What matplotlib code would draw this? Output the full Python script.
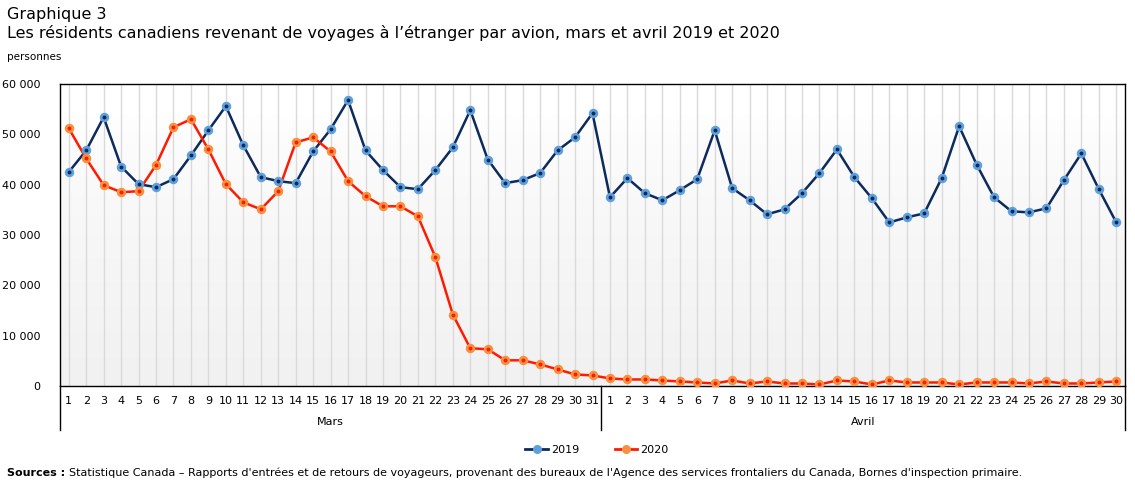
import matplotlib
matplotlib.use("Agg")
import matplotlib.pyplot as plt
import matplotlib.transforms as mtransforms
from matplotlib.lines import Line2D
import numpy as np

# daily travellers, 1 Mar .. 30 Apr
mars_days = [str(d) for d in range(1, 32)]
avril_days = [str(d) for d in range(1, 31)]
day_labels = mars_days + avril_days
month_labels = ["Mars", "Avril"]

y2019 = [42500, 46800, 53400, 43600, 40100, 39500, 41100, 45800, 50800, 55600,
         47800, 41500, 40700, 40300, 46600, 51000, 56800, 46800, 42900, 39500,
         39100, 42900, 47400, 54800, 45000, 40300, 40900, 42300, 46800, 49400,
         54200,
         37500, 41300, 38300, 36900, 38900, 41100, 50800, 39300, 36900, 34100,
         35100, 38300, 42300, 47000, 41500, 37300, 32500, 33500, 34300, 41300,
         51600, 44000, 37500, 34700, 34500, 35300, 40900, 46200, 39100, 32500]

y2020 = [51200, 45200, 39900, 38500, 38700, 43900, 51400, 53000, 47000, 40100,
         36500, 35100, 38700, 48400, 49400, 46600, 40700, 37700, 35700, 35700,
         33700, 25600, 14200, 7500, 7300, 5100, 5100, 4300, 3300, 2300,
         2100,
         1500, 1300, 1300, 1100, 900, 700, 500, 1100, 500, 900,
         500, 500, 300, 1100, 900, 300, 1100, 700, 700, 700,
         300, 700, 700, 700, 500, 900, 500, 500, 700, 900]

W, H = 1135, 492
fig = plt.figure(figsize=(W / 100, H / 100), dpi=100)
ax = fig.add_axes([60 / W, 1 - 386 / H, (1125 - 60) / W, (386 - 84) / H])

x = np.arange(len(day_labels))
n = len(x)

# background gradient, white at top to light grey at bottom
g = np.linspace(0, 1, 256)
grad = (1.0 - 0.055 * np.clip((g - 0.1) / 0.9, 0, 1) ** 0.7).reshape(-1, 1)
ax.imshow(np.dstack([grad, grad, grad]), aspect="auto", extent=[-0.5, n - 0.5, 0, 60000],
          origin="upper", zorder=0)

for xi in x:
    ax.axvline(xi, color="#dadada", lw=1, zorder=1)

c19_line, c19_mark = "#0d2a5c", "#5fa0dc"
c20_line, c20_mark = "#ff1a00", "#f5913f"

ax.plot(x, y2019, color=c19_line, lw=1.8, zorder=3)
ax.plot(x, y2019, ls="none", marker="o", ms=5.8, mfc=c19_mark, mec=c19_mark, zorder=4)
ax.plot(x, y2019, ls="none", marker="o", ms=1.8, mfc=c19_line, mec=c19_line, zorder=5)

ax.plot(x, y2020, color=c20_line, lw=1.8, zorder=3)
ax.plot(x, y2020, ls="none", marker="o", ms=5.8, mfc=c20_mark, mec=c20_mark, zorder=4)
ax.plot(x, y2020, ls="none", marker="o", ms=1.8, mfc=c20_line, mec=c20_line, zorder=5)

ax.set_xlim(-0.5, n - 0.5)
ax.set_ylim(0, 60000)
ax.set_yticks(range(0, 60001, 10000))
ax.set_yticklabels([f"{v:,}".replace(",", " ") for v in range(0, 60001, 10000)], fontsize=8)
ax.set_xticks(x)
ax.set_xticklabels(day_labels, fontsize=8)
ax.tick_params(axis="both", length=0)
ax.tick_params(axis="x", pad=7)
ax.tick_params(axis="y", pad=14)
for s in ax.spines.values():
    s.set_color("black")
    s.set_linewidth(1)

# month groups under the day labels
trans = mtransforms.blended_transform_factory(ax.transData, ax.transAxes)
for xb in [-0.5, 30.5, n - 0.5]:
    ax.add_line(Line2D([xb, xb], [0, -0.145], transform=trans, color="black", lw=1, clip_on=False))
ax.text(15, -0.12, month_labels[0], transform=trans, ha="center", va="center", fontsize=8)
ax.text(45.5, -0.12, month_labels[1], transform=trans, ha="center", va="center", fontsize=8)

fig.text(7 / W, 1 - 14 / H, "Graphique 3", fontsize=11.5, va="center", ha="left")
fig.text(7 / W, 1 - 33 / H,
         "Les résidents canadiens revenant de voyages à l\u2019étranger par avion, mars et avril 2019 et 2020",
         fontsize=11.5, va="center", ha="left")
fig.text(7 / W, 1 - 57 / H, "personnes", fontsize=7.5, va="center", ha="left")

handles = [
    Line2D([], [], color=c19_line, lw=2, marker="o", ms=5.5, mfc=c19_mark, mec=c19_mark),
    Line2D([], [], color=c20_line, lw=2, marker="o", ms=5.5, mfc=c20_mark, mec=c20_mark),
]
fig.legend(handles, ["2019", "2020"], loc="center", bbox_to_anchor=(597 / W, 1 - 450 / H),
           ncol=2, frameon=False, fontsize=8, handlelength=2.0, columnspacing=3.2, handletextpad=0.3)

t = fig.text(7 / W, 1 - 473 / H, "Sources :", fontsize=8, fontweight="bold", va="center", ha="left")
fig.canvas.draw()
bb = t.get_window_extent()
fig.text((bb.x1 + 4) / W, 1 - 473 / H,
         "Statistique Canada \u2013 Rapports d'entrées et de retours de voyageurs, provenant des bureaux "
         "de l'Agence des services frontaliers du Canada, Bornes d'inspection primaire.",
         fontsize=8, va="center", ha="left")

fig.savefig("out.png", dpi=100)
